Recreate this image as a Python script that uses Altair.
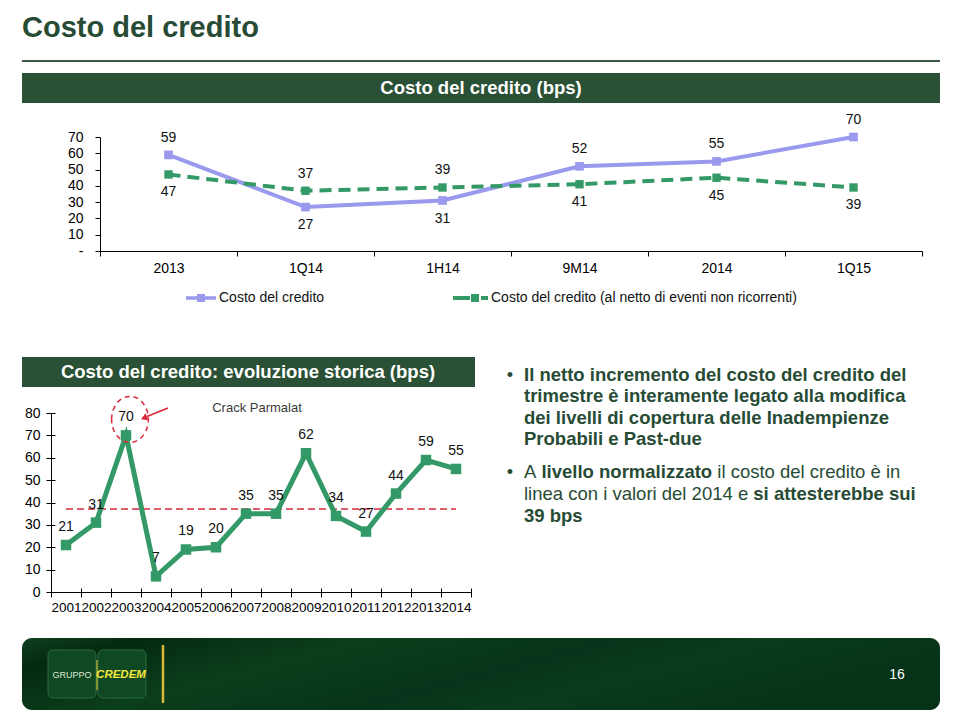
import altair as alt
import pandas as pd

# ---------------- data ----------------
periods = ["2013", "1Q14", "1H14", "9M14", "2014", "1Q15"]
credito = [59, 27, 31, 52, 55, 70]
netto = [47, 37, 39, 41, 45, 39]
top_ticks = [0, 10, 20, 30, 40, 50, 60, 70]

years = ["2001", "2002", "2003", "2004", "2005", "2006", "2007",
         "2008", "2009", "2010", "2011", "2012", "2013", "2014"]
storico = [21, 31, 70, 7, 19, 20, 35, 35, 62, 34, 27, 44, 59, 55]
bottom_ticks = [0, 10, 20, 30, 40, 50, 60, 70, 80]

title_text = "Costo del credito"
top_banner = "Costo del credito (bps)"
bottom_banner = "Costo del credito: evoluzione storica (bps)"
legend_1 = "Costo del credito"
legend_2 = "Costo del credito (al netto di eventi non ricorrenti)"
annotation = "Crack Parmalat"
bullet_1 = ["Il netto incremento del costo del credito del",
            "trimestre è interamente legato alla modifica",
            "dei livelli di copertura delle Inadempienze",
            "Probabili e Past-due"]
page_number = "16"

# ---------------- layout helpers ----------------
W, H = 944, 704
FONT = "Liberation Sans"
DARK = "#274b35"
LAV = "#9999ee"
GRN = "#339966"
RED = "#d8283a"


def px(v):
    return v - 8


REG = {' ': 278, 'A': 667, 'I': 278, 'P': 667, 'a': 556, 'b': 556, 'c': 500, 'd': 556,
       'e': 556, 'f': 278, 'g': 556, 'h': 556, 'i': 222, 'j': 222, 'k': 500, 'l': 222,
       'm': 833, 'n': 556, 'o': 556, 'p': 556, 'q': 556, 'r': 333, 's': 500, 't': 278,
       'u': 556, 'v': 500, 'w': 722, 'x': 500, 'y': 500, 'z': 500, 'è': 556, '-': 333}
BOLD = {' ': 278, 'A': 722, 'I': 278, 'P': 667, 'a': 556, 'b': 611, 'c': 556, 'd': 611,
        'e': 556, 'f': 333, 'g': 611, 'h': 611, 'i': 278, 'j': 278, 'k': 556, 'l': 278,
        'm': 889, 'n': 611, 'o': 611, 'p': 611, 'q': 611, 'r': 389, 's': 556, 't': 333,
        'u': 611, 'v': 556, 'w': 778, 'x': 556, 'y': 556, 'z': 500, 'è': 556, '-': 333}


def tw(s, size, bold=False):
    table = BOLD if bold else REG
    return sum(table.get(c, 556) for c in s) * size / 1000.0


one = pd.DataFrame({"k": [0]})


def rect(x1, y1, x2, y2, **kw):
    return alt.Chart(one).mark_rect(**kw).encode(
        x=alt.value(px(x1)), x2=alt.value(px(x2)), y=alt.value(px(y1)), y2=alt.value(px(y2)))


def rule(x1, y1, x2, y2, **kw):
    return alt.Chart(one).mark_rule(**kw).encode(
        x=alt.value(px(x1)), x2=alt.value(px(x2)), y=alt.value(px(y1)), y2=alt.value(px(y2)))


def label(text, x, y, size=14, weight="normal", color="#000", align="left",
          baseline="middle", style="normal"):
    return alt.Chart(one).mark_text(
        text=text, fontSize=size, fontWeight=weight, color=color, align=align,
        baseline=baseline, fontStyle=style, font=FONT).encode(
        x=alt.value(px(x)), y=alt.value(px(y)))


def square(x, y, size, color):
    return alt.Chart(one).mark_square(size=size, color=color, opacity=1).encode(
        x=alt.value(px(x)), y=alt.value(px(y)))


layers = []

# ---------------- header ----------------
layers.append(label(title_text, 22, 37, size=29, weight="bold", color=DARK, baseline="alphabetic"))
layers.append(rule(22, 61, 940, 61, color="#3a5844", strokeWidth=2))
layers.append(rect(22, 73, 940, 103, color="#2a5035"))
layers.append(label(top_banner, 481, 88, size=18.5, weight="bold", color="white", align="center"))

# ---------------- top chart ----------------
TX = (100, 922)
TY = (251, 137)
top_df = pd.DataFrame({"period": periods, "credito": credito, "netto": netto})
tx_scale = alt.Scale(type="band", domain=periods, range=[px(TX[0]), px(TX[1])],
                     paddingInner=0, paddingOuter=0)
ty_scale = alt.Scale(domain=[0, 70], range=[px(TY[0]), px(TY[1])], nice=False)

top_x_axis = alt.Axis(orient="bottom", offset=px(TY[0]) - H, title=None, grid=False,
                      tickBand="extent", labelAngle=0, labelFont=FONT, labelFontSize=14,
                      labelColor="#000", labelPadding=5, tickSize=5, tickColor="#000",
                      domainColor="#000", labelOverlap=False)
top_y_axis = alt.Axis(orient="left", offset=-px(TX[0]), title=None, grid=False,
                      values=top_ticks, labelExpr="datum.value == 0 ? '-' : datum.label",
                      labelFont=FONT, labelFontSize=14, labelColor="#000", labelPadding=12,
                      tickSize=5, tickColor="#000", domainColor="#000")


def tx(axis=None):
    return alt.X("period:N", sort=periods, scale=tx_scale, bandPosition=0.5, axis=axis)


def ty(field, axis=None):
    return alt.Y(f"{field}:Q", scale=ty_scale, axis=axis)


top = alt.Chart(top_df)
layers.append(top.mark_line(color=LAV, strokeWidth=4).encode(
    x=tx(top_x_axis), y=ty("credito", top_y_axis)))
layers.append(top.mark_line(color=GRN, strokeWidth=4, strokeDash=[12, 7]).encode(
    x=tx(), y=ty("netto")))
layers.append(top.mark_square(size=75, color=LAV, opacity=1).encode(x=tx(), y=ty("credito")))
layers.append(top.mark_square(size=70, color=GRN, opacity=1).encode(x=tx(), y=ty("netto")))

lab_kw = dict(fontSize=14, font=FONT, color="#111")
layers.append(top.transform_filter("datum.credito >= datum.netto").mark_text(dy=-17, **lab_kw)
              .encode(x=tx(), y=ty("credito"), text="credito:Q"))
layers.append(top.transform_filter("datum.credito < datum.netto").mark_text(dy=18, **lab_kw)
              .encode(x=tx(), y=ty("credito"), text="credito:Q"))
layers.append(top.transform_filter("datum.netto > datum.credito").mark_text(dy=-17, **lab_kw)
              .encode(x=tx(), y=ty("netto"), text="netto:Q"))
layers.append(top.transform_filter("datum.netto <= datum.credito").mark_text(dy=18, **lab_kw)
              .encode(x=tx(), y=ty("netto"), text="netto:Q"))

# legend
layers.append(rule(186, 298, 216, 298, color=LAV, strokeWidth=3.5))
layers.append(square(201, 298, 64, LAV))
layers.append(label(legend_1, 219, 298, size=14, color="#111"))
layers.append(rule(453, 298, 470, 298, color=GRN, strokeWidth=4))
layers.append(square(475, 298, 64, GRN))
layers.append(rule(481, 298, 488, 298, color=GRN, strokeWidth=4))
layers.append(label(legend_2, 491, 298, size=14, color="#111"))

# ---------------- bottom chart ----------------
layers.append(rect(22, 357, 475, 387, color="#2a5035"))
layers.append(label(bottom_banner, 248, 372, size=18.5, weight="bold", color="white", align="center"))

BX = (51, 471)
BY = (592, 413)
bstep = (BX[1] - BX[0]) / len(years)
bot_df = pd.DataFrame({"year": years, "valore": storico})
bx_scale = alt.Scale(type="band", domain=years, range=[px(BX[0]), px(BX[1])],
                     paddingInner=0, paddingOuter=0)
by_scale = alt.Scale(domain=[0, 80], range=[px(BY[0]), px(BY[1])], nice=False)

bot_x_axis = alt.Axis(orient="bottom", offset=px(BY[0]) - H, title=None, grid=False,
                      tickBand="extent", labelAngle=0, labelFont=FONT, labelFontSize=13.5,
                      labelColor="#000", labelPadding=3, tickSize=5, tickColor="#000",
                      domainColor="#000", labelOverlap=False, labelBound=False)
bot_x_ticks = alt.Axis(orient="top", offset=-px(BY[0]), title=None, grid=False,
                       tickBand="extent", labels=False, domain=False, tickSize=4,
                       tickColor="#000")
bot_y_axis = alt.Axis(orient="left", offset=-px(BX[0]), title=None, grid=False,
                      values=bottom_ticks, labelFont=FONT, labelFontSize=14,
                      labelColor="#000", labelPadding=6, tickSize=5, tickColor="#000",
                      domainColor="#000")
bot_y_ticks = alt.Axis(orient="right", offset=px(BX[0]) - W, title=None, grid=False,
                       values=bottom_ticks, labels=False, domain=False, tickSize=4,
                       tickColor="#000")


def bx(axis=None):
    return alt.X("year:N", sort=years, scale=bx_scale, bandPosition=0.5, axis=axis)


def by(axis=None):
    return alt.Y("valore:Q", scale=by_scale, axis=axis)


bot = alt.Chart(bot_df)
# mean line
layers.append(bot.transform_aggregate(media="mean(valore)").mark_rule(
    color=RED, strokeWidth=1.5, strokeDash=[7, 4]).encode(
    y=alt.Y("media:Q", scale=by_scale, axis=None),
    x=alt.value(px(BX[0] + bstep / 2)), x2=alt.value(px(BX[1] - bstep / 2))))
layers.append(bot.mark_line(color=GRN, strokeWidth=5).encode(x=bx(bot_x_axis), y=by(bot_y_axis)))
layers.append(bot.mark_square(size=110, color=GRN, opacity=1).encode(
    x=bx(bot_x_ticks), y=by(bot_y_ticks)))
layers.append(bot.mark_text(dy=-18, **lab_kw).encode(x=bx(), y=by(), text="valore:Q"))

# dashed ellipse around the peak
ellipse = "M -0.8 0 A 0.8 1 0 1 1 0.8 0 A 0.8 1 0 1 1 -0.8 0 Z"
layers.append(bot.transform_joinaggregate(massimo="max(valore)")
              .transform_filter("datum.valore == datum.massimo")
              .mark_point(shape=ellipse, size=2116, filled=False, stroke=RED, strokeWidth=1.5,
                          strokeDash=[5, 4], opacity=1, xOffset=4, yOffset=-16)
              .encode(x=bx(), y=by()))
# arrow
layers.append(rule(168, 408, 147, 416.5, color=RED, strokeWidth=1.5))
layers.append(alt.Chart(one).mark_point(shape="triangle-right", size=55, filled=True,
                                        color=RED, opacity=1, angle=158)
              .encode(x=alt.value(px(144)), y=alt.value(px(418))))
layers.append(label(annotation, 257, 408, size=13, color="#3a3a3a", align="center"))

# ---------------- bullets ----------------
TXT = 524
FS = 18.5
base1 = [380.5, 402, 423.5, 445]
for i, line in enumerate(bullet_1):
    layers.append(label(line, TXT, base1[i], size=FS, weight="bold", color=DARK,
                        baseline="alphabetic"))
layers.append(label("•", 510, base1[0], size=18, color=DARK, align="center", baseline="alphabetic"))

b2 = [478, 500, 521.5]
layers.append(label("•", 510, b2[0], size=18, color=DARK, align="center", baseline="alphabetic"))
seg_a = "A"
seg_b = "livello normalizzato"
seg_c = "il costo del credito è in"
xa = TXT
xb = xa + tw(seg_a + " ", FS)
xc = xb + tw(seg_b, FS, True) + tw(" ", FS)
layers.append(label(seg_a, xa, b2[0], size=FS, color=DARK, baseline="alphabetic"))
layers.append(label(seg_b, xb, b2[0], size=FS, weight="bold", color=DARK, baseline="alphabetic"))
layers.append(label(seg_c, xc, b2[0], size=FS, color=DARK, baseline="alphabetic"))
seg_d = "linea con i valori del 2014 e"
seg_e = "si attesterebbe sui"
xe = TXT + tw(seg_d + " ", FS)
layers.append(label(seg_d, TXT, b2[1], size=FS, color=DARK, baseline="alphabetic"))
layers.append(label(seg_e, xe, b2[1], size=FS, weight="bold", color=DARK, baseline="alphabetic"))
layers.append(label("39 bps", TXT, b2[2], size=FS, weight="bold", color=DARK, baseline="alphabetic"))

# ---------------- footer ----------------
footer_fill = {"gradient": "linear", "x1": 0, "y1": 0, "x2": 1, "y2": 0.3,
               "stops": [{"offset": 0, "color": "#0f3f1e"},
                         {"offset": 0.12, "color": "#042a12"},
                         {"offset": 0.35, "color": "#0b3e1c"},
                         {"offset": 0.6, "color": "#06341a"},
                         {"offset": 0.75, "color": "#0a3b1c"},
                         {"offset": 1, "color": "#053318"}]}
layers.append(rect(22, 638, 940, 710, cornerRadius=10, fill=footer_fill))
layers.append(rect(48, 650, 96, 698, cornerRadius=5, fill="#0f4822", stroke="#2b6a3b", strokeWidth=1))
layers.append(rect(98, 650, 146, 698, cornerRadius=5, fill="#0f4822", stroke="#2b6a3b", strokeWidth=1))
layers.append(rule(97, 660, 97, 690, color="#e8d840", strokeWidth=1))
layers.append(rule(163, 645, 163, 703, color="#d9b93a", strokeWidth=2.5))
layers.append(label("GRUPPO", 72, 675, size=9, color="#dfe6d6", align="center"))
layers.append(label("CREDEM", 121, 675, size=11.5, weight="bold", style="italic",
                    color="#f7e83c", align="center"))
layers.append(label(page_number, 897, 675, size=14, color="white", align="center"))

chart = (alt.layer(*layers)
         .resolve_scale(x="independent", y="independent")
         .resolve_axis(x="independent", y="independent")
         .properties(width=W, height=H, autosize=alt.AutoSizeParams(type="none"),
                     padding=0, background="white")
         .configure_view(stroke=None))

chart.save("out.html", embed_options={"renderer": "svg", "actions": False})
